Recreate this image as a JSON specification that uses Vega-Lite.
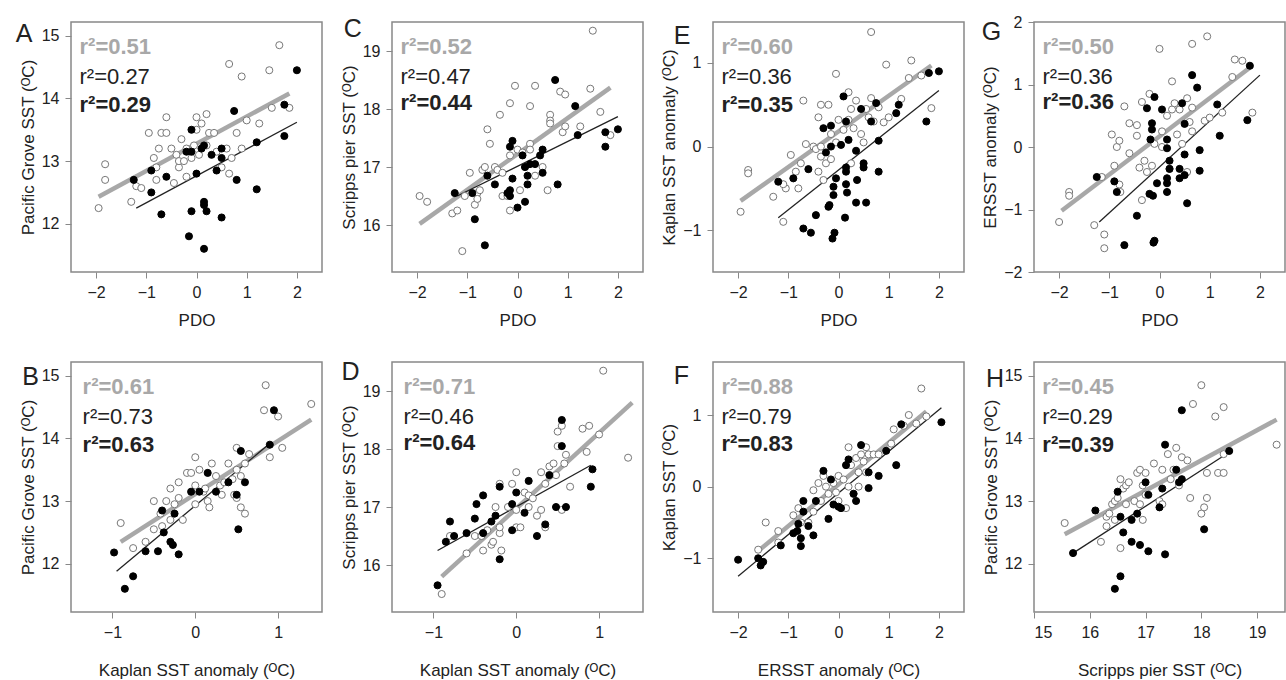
{
"$schema":"https://vega.github.io/schema/vega-lite/v6.json",
"padding":{"left":15,"top":13,"right":0,"bottom":0},
"background":"white",
"config":{"view":{"stroke":"#888","strokeWidth":1.5},"axis":{"grid":false,"domain":false,"tickColor":"#888","tickSize":6,"labelFontSize":16,"labelColor":"#222","labelFont":"Liberation Sans","titleFont":"Liberation Sans","titleFontSize":17,"titleFontWeight":"normal","titleColor":"#222","labelPadding":6},"axisY":{"titlePadding":4},"concat":{"spacing":70}},
"bounds":"flush",
"columns":4,
"spacing":{"row":90,"column":70},
"resolve":{"scale":{"x":"independent","y":"independent"}},
"datasets":{
"A":[{"x":-1.95,"y":12.25,"t":"o"},{"x":-1.82,"y":12.95,"t":"o"},{"x":-1.82,"y":12.7,"t":"o"},{"x":-1.3,"y":12.35,"t":"o"},{"x":-1.2,"y":12.6,"t":"o"},{"x":-1.1,"y":12.57,"t":"o"},{"x":-0.95,"y":13.45,"t":"o"},{"x":-0.85,"y":13.05,"t":"o"},{"x":-0.8,"y":12.7,"t":"o"},{"x":-0.8,"y":12.9,"t":"o"},{"x":-0.75,"y":13.2,"t":"o"},{"x":-0.7,"y":13.45,"t":"o"},{"x":-0.6,"y":13.45,"t":"o"},{"x":-0.6,"y":13.7,"t":"o"},{"x":-0.5,"y":13.2,"t":"o"},{"x":-0.45,"y":12.65,"t":"o"},{"x":-0.4,"y":13.1,"t":"o"},{"x":-0.35,"y":12.9,"t":"o"},{"x":-0.35,"y":13.0,"t":"o"},{"x":-0.3,"y":13.35,"t":"o"},{"x":-0.25,"y":13.0,"t":"o"},{"x":-0.2,"y":13.2,"t":"o"},{"x":-0.2,"y":12.75,"t":"o"},{"x":-0.1,"y":13.05,"t":"o"},{"x":-0.05,"y":13.25,"t":"o"},{"x":0,"y":13.7,"t":"o"},{"x":0,"y":13.5,"t":"o"},{"x":0.05,"y":13.1,"t":"o"},{"x":0.1,"y":13.6,"t":"o"},{"x":0.2,"y":13.75,"t":"o"},{"x":0.2,"y":13.25,"t":"o"},{"x":0.25,"y":13.45,"t":"o"},{"x":0.35,"y":13.45,"t":"o"},{"x":0.4,"y":13.15,"t":"o"},{"x":0.5,"y":12.9,"t":"o"},{"x":0.6,"y":13.2,"t":"o"},{"x":0.65,"y":14.55,"t":"o"},{"x":0.65,"y":12.8,"t":"o"},{"x":0.7,"y":13.05,"t":"o"},{"x":0.8,"y":13.45,"t":"o"},{"x":0.9,"y":14.35,"t":"o"},{"x":0.9,"y":13.2,"t":"o"},{"x":1.0,"y":13.65,"t":"o"},{"x":1.25,"y":13.6,"t":"o"},{"x":1.45,"y":14.45,"t":"o"},{"x":1.5,"y":13.85,"t":"o"},{"x":1.65,"y":14.85,"t":"o"},{"x":1.85,"y":13.85,"t":"o"},
{"x":-1.25,"y":12.7,"t":"f"},{"x":-0.9,"y":12.5,"t":"f"},{"x":-0.9,"y":12.85,"t":"f"},{"x":-0.7,"y":12.15,"t":"f"},{"x":-0.6,"y":12.75,"t":"f"},{"x":-0.2,"y":13.15,"t":"f"},{"x":-0.15,"y":11.8,"t":"f"},{"x":-0.1,"y":13.15,"t":"f"},{"x":-0.1,"y":13.5,"t":"f"},{"x":-0.1,"y":12.2,"t":"f"},{"x":0,"y":12.8,"t":"f"},{"x":0.1,"y":13.2,"t":"f"},{"x":0.15,"y":13.25,"t":"f"},{"x":0.15,"y":12.35,"t":"f"},{"x":0.15,"y":12.3,"t":"f"},{"x":0.15,"y":11.6,"t":"f"},{"x":0.2,"y":12.2,"t":"f"},{"x":0.3,"y":13.1,"t":"f"},{"x":0.4,"y":12.85,"t":"f"},{"x":0.5,"y":13.2,"t":"f"},{"x":0.5,"y":13.05,"t":"f"},{"x":0.5,"y":12.1,"t":"f"},{"x":0.75,"y":13.8,"t":"f"},{"x":0.8,"y":12.7,"t":"f"},{"x":1.2,"y":12.55,"t":"f"},{"x":1.2,"y":13.3,"t":"f"},{"x":1.75,"y":13.4,"t":"f"},{"x":1.75,"y":13.9,"t":"f"},{"x":2.0,"y":14.45,"t":"f"}],
"Al":[{"x":-1.95,"y":12.43,"g":"g"},{"x":1.85,"y":14.08,"g":"g"},{"x":-1.2,"y":12.25,"g":"b"},{"x":2.0,"y":13.62,"g":"b"}],
"At":[{"x":-2.33,"y":14.82,"s":"r²=0.51","c":"g","w":"b"},{"x":-2.33,"y":14.34,"s":"r²=0.27","c":"b","w":"n"},{"x":-2.33,"y":13.9,"s":"r²=0.29","c":"b","w":"b"},{"x":-3.6,"y":15.03,"s":"A","c":"b","w":"L"}],
"C":[{"x":-1.95,"y":16.5,"t":"o"},{"x":-1.8,"y":16.4,"t":"o"},{"x":-1.3,"y":16.2,"t":"o"},{"x":-1.2,"y":16.25,"t":"o"},{"x":-1.1,"y":15.55,"t":"o"},{"x":-1.05,"y":16.5,"t":"o"},{"x":-0.95,"y":16.9,"t":"o"},{"x":-0.85,"y":16.35,"t":"o"},{"x":-0.8,"y":16.55,"t":"o"},{"x":-0.8,"y":16.45,"t":"o"},{"x":-0.75,"y":16.6,"t":"o"},{"x":-0.7,"y":16.95,"t":"o"},{"x":-0.65,"y":17.0,"t":"o"},{"x":-0.6,"y":17.65,"t":"o"},{"x":-0.55,"y":17.4,"t":"o"},{"x":-0.45,"y":17.0,"t":"o"},{"x":-0.4,"y":16.95,"t":"o"},{"x":-0.35,"y":17.9,"t":"o"},{"x":-0.3,"y":16.5,"t":"o"},{"x":-0.3,"y":16.9,"t":"o"},{"x":-0.2,"y":16.5,"t":"o"},{"x":-0.15,"y":17.2,"t":"o"},{"x":-0.15,"y":18.1,"t":"o"},{"x":-0.15,"y":16.25,"t":"o"},{"x":-0.05,"y":18.4,"t":"o"},{"x":0,"y":17.3,"t":"o"},{"x":0.05,"y":16.6,"t":"o"},{"x":0.1,"y":17.25,"t":"o"},{"x":0.15,"y":17.0,"t":"o"},{"x":0.25,"y":17.4,"t":"o"},{"x":0.25,"y":17.3,"t":"o"},{"x":0.25,"y":18.05,"t":"o"},{"x":0.35,"y":18.4,"t":"o"},{"x":0.35,"y":16.85,"t":"o"},{"x":0.5,"y":17.0,"t":"o"},{"x":0.6,"y":16.6,"t":"o"},{"x":0.65,"y":17.9,"t":"o"},{"x":0.65,"y":17.8,"t":"o"},{"x":0.65,"y":17.75,"t":"o"},{"x":0.85,"y":18.3,"t":"o"},{"x":0.95,"y":18.25,"t":"o"},{"x":0.9,"y":17.6,"t":"o"},{"x":0.95,"y":17.7,"t":"o"},{"x":1.25,"y":17.7,"t":"o"},{"x":1.45,"y":18.35,"t":"o"},{"x":1.5,"y":19.35,"t":"o"},{"x":1.65,"y":17.95,"t":"o"},{"x":1.85,"y":17.55,"t":"o"},
{"x":-1.25,"y":16.55,"t":"f"},{"x":-0.9,"y":16.55,"t":"f"},{"x":-0.85,"y":16.1,"t":"f"},{"x":-0.65,"y":15.65,"t":"f"},{"x":-0.6,"y":16.85,"t":"f"},{"x":-0.45,"y":16.7,"t":"f"},{"x":-0.15,"y":16.5,"t":"f"},{"x":-0.2,"y":16.55,"t":"f"},{"x":-0.15,"y":16.6,"t":"f"},{"x":-0.1,"y":17.45,"t":"f"},{"x":-0.15,"y":17.35,"t":"f"},{"x":-0.1,"y":16.8,"t":"f"},{"x":0,"y":16.3,"t":"f"},{"x":0.1,"y":17.2,"t":"f"},{"x":0.15,"y":17.0,"t":"f"},{"x":0.15,"y":16.4,"t":"f"},{"x":0.2,"y":16.7,"t":"f"},{"x":0.2,"y":16.85,"t":"f"},{"x":0.25,"y":17.05,"t":"f"},{"x":0.35,"y":17.05,"t":"f"},{"x":0.45,"y":17.2,"t":"f"},{"x":0.5,"y":16.9,"t":"f"},{"x":0.5,"y":17.3,"t":"f"},{"x":0.75,"y":18.5,"t":"f"},{"x":0.8,"y":16.7,"t":"f"},{"x":1.15,"y":18.05,"t":"f"},{"x":1.2,"y":17.55,"t":"f"},{"x":1.75,"y":17.6,"t":"f"},{"x":1.75,"y":17.35,"t":"f"},{"x":2.0,"y":17.65,"t":"f"}],
"Cl":[{"x":-1.95,"y":16.02,"g":"g"},{"x":1.85,"y":18.37,"g":"g"},{"x":-1.2,"y":16.5,"g":"b"},{"x":2.0,"y":17.87,"g":"b"}],
"Ct":[{"x":-2.33,"y":19.07,"s":"r²=0.52","c":"g","w":"b"},{"x":-2.33,"y":18.55,"s":"r²=0.47","c":"b","w":"n"},{"x":-2.33,"y":18.1,"s":"r²=0.44","c":"b","w":"b"},{"x":-3.46,"y":19.38,"s":"C","c":"b","w":"L"}],
"E":[{"x":-1.95,"y":-0.78,"t":"o"},{"x":-1.8,"y":-0.28,"t":"o"},{"x":-1.8,"y":-0.32,"t":"o"},{"x":-1.3,"y":-0.6,"t":"o"},{"x":-1.1,"y":-0.9,"t":"o"},{"x":-1.05,"y":-0.5,"t":"o"},{"x":-1.1,"y":-0.45,"t":"o"},{"x":-0.95,"y":-0.1,"t":"o"},{"x":-0.85,"y":-0.3,"t":"o"},{"x":-0.8,"y":-0.5,"t":"o"},{"x":-0.75,"y":-0.2,"t":"o"},{"x":-0.7,"y":0.55,"t":"o"},{"x":-0.65,"y":0.03,"t":"o"},{"x":-0.5,"y":0.0,"t":"o"},{"x":-0.45,"y":-0.03,"t":"o"},{"x":-0.4,"y":-0.3,"t":"o"},{"x":-0.4,"y":0.35,"t":"o"},{"x":-0.35,"y":0.0,"t":"o"},{"x":-0.35,"y":-0.12,"t":"o"},{"x":-0.35,"y":0.5,"t":"o"},{"x":-0.3,"y":-0.4,"t":"o"},{"x":-0.25,"y":-0.2,"t":"o"},{"x":-0.2,"y":0.5,"t":"o"},{"x":-0.15,"y":0.15,"t":"o"},{"x":-0.15,"y":-0.15,"t":"o"},{"x":-0.05,"y":0.87,"t":"o"},{"x":-0.05,"y":0.05,"t":"o"},{"x":0,"y":0.32,"t":"o"},{"x":0.1,"y":0.2,"t":"o"},{"x":0.2,"y":0.32,"t":"o"},{"x":0.2,"y":0.65,"t":"o"},{"x":0.25,"y":0.45,"t":"o"},{"x":0.25,"y":-0.2,"t":"o"},{"x":0.3,"y":0.22,"t":"o"},{"x":0.35,"y":0.55,"t":"o"},{"x":0.45,"y":0.15,"t":"o"},{"x":0.5,"y":0.05,"t":"o"},{"x":0.55,"y":0.45,"t":"o"},{"x":0.6,"y":0.35,"t":"o"},{"x":0.65,"y":0.58,"t":"o"},{"x":0.65,"y":1.37,"t":"o"},{"x":0.7,"y":0.3,"t":"o"},{"x":0.8,"y":0.47,"t":"o"},{"x":0.9,"y":0.29,"t":"o"},{"x":0.95,"y":0.98,"t":"o"},{"x":1.0,"y":0.35,"t":"o"},{"x":1.25,"y":0.57,"t":"o"},{"x":1.4,"y":0.82,"t":"o"},{"x":1.45,"y":1.03,"t":"o"},{"x":1.65,"y":0.85,"t":"o"},{"x":1.85,"y":0.46,"t":"o"},
{"x":-1.2,"y":-0.42,"t":"f"},{"x":-0.9,"y":-0.38,"t":"f"},{"x":-0.7,"y":-0.98,"t":"f"},{"x":-0.6,"y":-0.27,"t":"f"},{"x":-0.55,"y":-1.03,"t":"f"},{"x":-0.45,"y":-0.82,"t":"f"},{"x":-0.3,"y":0.22,"t":"f"},{"x":-0.25,"y":-0.07,"t":"f"},{"x":-0.2,"y":-0.72,"t":"f"},{"x":-0.18,"y":-0.7,"t":"f"},{"x":-0.15,"y":0.25,"t":"f"},{"x":-0.15,"y":0.0,"t":"f"},{"x":-0.1,"y":-0.48,"t":"f"},{"x":-0.1,"y":-0.58,"t":"f"},{"x":-0.12,"y":-1.1,"t":"f"},{"x":-0.08,"y":-1.03,"t":"f"},{"x":-0.05,"y":-0.38,"t":"f"},{"x":0.05,"y":0.02,"t":"f"},{"x":0.1,"y":0.6,"t":"f"},{"x":0.15,"y":0.3,"t":"f"},{"x":0.15,"y":-0.25,"t":"f"},{"x":0.15,"y":-0.3,"t":"f"},{"x":0.15,"y":-0.45,"t":"f"},{"x":0.17,"y":-0.55,"t":"f"},{"x":0.13,"y":-0.85,"t":"f"},{"x":0.2,"y":0.08,"t":"f"},{"x":0.35,"y":-0.05,"t":"f"},{"x":0.37,"y":-0.4,"t":"f"},{"x":0.35,"y":-0.67,"t":"f"},{"x":0.45,"y":0.45,"t":"f"},{"x":0.5,"y":-0.2,"t":"f"},{"x":0.5,"y":-0.25,"t":"f"},{"x":0.55,"y":-0.67,"t":"f"},{"x":0.65,"y":0.3,"t":"f"},{"x":0.75,"y":0.52,"t":"f"},{"x":0.8,"y":0.07,"t":"f"},{"x":0.8,"y":-0.3,"t":"f"},{"x":1.15,"y":0.4,"t":"f"},{"x":1.2,"y":0.5,"t":"f"},{"x":1.75,"y":0.3,"t":"f"},{"x":1.8,"y":0.88,"t":"f"},{"x":2.0,"y":0.9,"t":"f"}],
"El":[{"x":-1.95,"y":-0.65,"g":"g"},{"x":1.85,"y":0.97,"g":"g"},{"x":-1.2,"y":-0.85,"g":"b"},{"x":2.0,"y":0.67,"g":"b"}],
"Et":[{"x":-2.33,"y":1.19,"s":"r²=0.60","c":"g","w":"b"},{"x":-2.33,"y":0.83,"s":"r²=0.36","c":"b","w":"n"},{"x":-2.33,"y":0.5,"s":"r²=0.35","c":"b","w":"b"},{"x":-3.28,"y":1.32,"s":"E","c":"b","w":"L"}],
"G":[{"x":-2.0,"y":-1.2,"t":"o"},{"x":-1.8,"y":-0.72,"t":"o"},{"x":-1.8,"y":-0.78,"t":"o"},{"x":-1.3,"y":-1.25,"t":"o"},{"x":-1.1,"y":-1.4,"t":"o"},{"x":-1.1,"y":-1.62,"t":"o"},{"x":-1.15,"y":-0.48,"t":"o"},{"x":-0.95,"y":0.2,"t":"o"},{"x":-0.9,"y":-0.3,"t":"o"},{"x":-0.85,"y":0.0,"t":"o"},{"x":-0.8,"y":0.1,"t":"o"},{"x":-0.8,"y":-0.6,"t":"o"},{"x":-0.78,"y":-0.72,"t":"o"},{"x":-0.7,"y":0.65,"t":"o"},{"x":-0.6,"y":-0.1,"t":"o"},{"x":-0.6,"y":0.38,"t":"o"},{"x":-0.45,"y":0.18,"t":"o"},{"x":-0.45,"y":0.35,"t":"o"},{"x":-0.4,"y":-0.33,"t":"o"},{"x":-0.35,"y":0.72,"t":"o"},{"x":-0.35,"y":-0.85,"t":"o"},{"x":-0.3,"y":-0.22,"t":"o"},{"x":-0.25,"y":-0.4,"t":"o"},{"x":-0.2,"y":0.85,"t":"o"},{"x":-0.15,"y":-0.3,"t":"o"},{"x":-0.1,"y":0.05,"t":"o"},{"x":0,"y":1.57,"t":"o"},{"x":0.05,"y":0.0,"t":"o"},{"x":0.05,"y":0.25,"t":"o"},{"x":0.15,"y":0.5,"t":"o"},{"x":0.2,"y":-0.35,"t":"o"},{"x":0.25,"y":1.05,"t":"o"},{"x":0.25,"y":0.6,"t":"o"},{"x":0.3,"y":0.7,"t":"o"},{"x":0.35,"y":0.2,"t":"o"},{"x":0.4,"y":0.6,"t":"o"},{"x":0.45,"y":0.05,"t":"o"},{"x":0.55,"y":-0.4,"t":"o"},{"x":0.55,"y":0.78,"t":"o"},{"x":0.6,"y":0.4,"t":"o"},{"x":0.65,"y":1.65,"t":"o"},{"x":0.65,"y":0.63,"t":"o"},{"x":0.65,"y":0.25,"t":"o"},{"x":0.9,"y":0.42,"t":"o"},{"x":0.95,"y":1.77,"t":"o"},{"x":1.0,"y":0.47,"t":"o"},{"x":1.25,"y":0.55,"t":"o"},{"x":1.45,"y":1.12,"t":"o"},{"x":1.5,"y":1.4,"t":"o"},{"x":1.65,"y":1.38,"t":"o"},{"x":1.85,"y":0.55,"t":"o"},
{"x":-1.25,"y":-0.48,"t":"f"},{"x":-0.9,"y":-0.55,"t":"f"},{"x":-0.85,"y":-0.72,"t":"f"},{"x":-0.7,"y":-1.57,"t":"f"},{"x":-0.45,"y":-1.1,"t":"f"},{"x":-0.25,"y":0.62,"t":"f"},{"x":-0.2,"y":-0.75,"t":"f"},{"x":-0.15,"y":0.38,"t":"f"},{"x":-0.15,"y":0.28,"t":"f"},{"x":-0.13,"y":-0.78,"t":"f"},{"x":-0.1,"y":0.8,"t":"f"},{"x":-0.1,"y":-1.5,"t":"f"},{"x":-0.12,"y":-1.53,"t":"f"},{"x":-0.18,"y":0.12,"t":"f"},{"x":-0.05,"y":-0.58,"t":"f"},{"x":0.05,"y":0.6,"t":"f"},{"x":0.15,"y":-0.02,"t":"f"},{"x":0.15,"y":-0.5,"t":"f"},{"x":0.15,"y":-0.58,"t":"f"},{"x":0.15,"y":-0.72,"t":"f"},{"x":0.15,"y":0.12,"t":"f"},{"x":0.2,"y":-0.22,"t":"f"},{"x":0.2,"y":-0.35,"t":"f"},{"x":0.4,"y":-0.35,"t":"f"},{"x":0.4,"y":-0.5,"t":"f"},{"x":0.45,"y":0.7,"t":"f"},{"x":0.5,"y":0.37,"t":"f"},{"x":0.5,"y":-0.12,"t":"f"},{"x":0.5,"y":-0.45,"t":"f"},{"x":0.55,"y":-0.9,"t":"f"},{"x":0.65,"y":1.15,"t":"f"},{"x":0.75,"y":0.95,"t":"f"},{"x":0.8,"y":-0.38,"t":"f"},{"x":0.8,"y":-0.05,"t":"f"},{"x":1.15,"y":0.68,"t":"f"},{"x":1.2,"y":0.18,"t":"f"},{"x":1.75,"y":0.43,"t":"f"},{"x":1.8,"y":1.3,"t":"f"}],
"Gl":[{"x":-1.95,"y":-1.02,"g":"g"},{"x":1.85,"y":1.3,"g":"g"},{"x":-1.2,"y":-1.2,"g":"b"},{"x":2.0,"y":1.15,"g":"b"}],
"Gt":[{"x":-2.33,"y":1.6,"s":"r²=0.50","c":"g","w":"b"},{"x":-2.33,"y":1.12,"s":"r²=0.36","c":"b","w":"n"},{"x":-2.33,"y":0.72,"s":"r²=0.36","c":"b","w":"b"},{"x":-3.54,"y":1.84,"s":"G","c":"b","w":"L"}],
"B":[{"x":-0.9,"y":12.65,"t":"o"},{"x":-0.75,"y":12.25,"t":"o"},{"x":-0.6,"y":12.35,"t":"o"},{"x":-0.5,"y":12.55,"t":"o"},{"x":-0.5,"y":13.0,"t":"o"},{"x":-0.4,"y":12.6,"t":"o"},{"x":-0.42,"y":12.8,"t":"o"},{"x":-0.35,"y":13.0,"t":"o"},{"x":-0.3,"y":13.2,"t":"o"},{"x":-0.3,"y":12.7,"t":"o"},{"x":-0.25,"y":12.95,"t":"o"},{"x":-0.2,"y":13.3,"t":"o"},{"x":-0.2,"y":13.05,"t":"o"},{"x":-0.15,"y":12.7,"t":"o"},{"x":-0.1,"y":13.45,"t":"o"},{"x":-0.05,"y":13.45,"t":"o"},{"x":0,"y":13.25,"t":"o"},{"x":0,"y":12.95,"t":"o"},{"x":0,"y":13.7,"t":"o"},{"x":0.05,"y":13.5,"t":"o"},{"x":0.1,"y":13.15,"t":"o"},{"x":0.12,"y":13.2,"t":"o"},{"x":0.15,"y":13.0,"t":"o"},{"x":0.17,"y":12.9,"t":"o"},{"x":0.2,"y":13.6,"t":"o"},{"x":0.25,"y":13.4,"t":"o"},{"x":0.3,"y":13.25,"t":"o"},{"x":0.32,"y":13.1,"t":"o"},{"x":0.35,"y":13.3,"t":"o"},{"x":0.4,"y":13.6,"t":"o"},{"x":0.45,"y":13.35,"t":"o"},{"x":0.47,"y":13.1,"t":"o"},{"x":0.5,"y":13.85,"t":"o"},{"x":0.5,"y":13.5,"t":"o"},{"x":0.5,"y":13.05,"t":"o"},{"x":0.55,"y":12.9,"t":"o"},{"x":0.55,"y":13.4,"t":"o"},{"x":0.6,"y":13.6,"t":"o"},{"x":0.6,"y":12.8,"t":"o"},{"x":0.65,"y":13.75,"t":"o"},{"x":0.85,"y":14.85,"t":"o"},{"x":0.83,"y":14.45,"t":"o"},{"x":0.9,"y":13.7,"t":"o"},{"x":1.0,"y":14.35,"t":"o"},{"x":1.05,"y":13.85,"t":"o"},{"x":1.4,"y":14.55,"t":"o"},
{"x":-0.98,"y":12.18,"t":"f"},{"x":-0.85,"y":11.6,"t":"f"},{"x":-0.75,"y":11.8,"t":"f"},{"x":-0.6,"y":12.2,"t":"f"},{"x":-0.45,"y":12.2,"t":"f"},{"x":-0.4,"y":12.85,"t":"f"},{"x":-0.38,"y":12.5,"t":"f"},{"x":-0.3,"y":12.35,"t":"f"},{"x":-0.27,"y":12.3,"t":"f"},{"x":-0.25,"y":12.8,"t":"f"},{"x":-0.2,"y":12.15,"t":"f"},{"x":-0.05,"y":13.15,"t":"f"},{"x":0.05,"y":13.15,"t":"f"},{"x":0.15,"y":13.45,"t":"f"},{"x":0.25,"y":13.15,"t":"f"},{"x":0.4,"y":13.3,"t":"f"},{"x":0.5,"y":13.1,"t":"f"},{"x":0.52,"y":12.55,"t":"f"},{"x":0.55,"y":13.8,"t":"f"},{"x":0.6,"y":13.3,"t":"f"},{"x":0.9,"y":13.9,"t":"f"},{"x":0.95,"y":14.45,"t":"f"}],
"Bl":[{"x":-0.9,"y":12.35,"g":"g"},{"x":1.4,"y":14.3,"g":"g"},{"x":-0.95,"y":11.88,"g":"b"},{"x":0.9,"y":13.92,"g":"b"}],
"Bt":[{"x":-1.36,"y":14.82,"s":"r²=0.61","c":"g","w":"b"},{"x":-1.36,"y":14.34,"s":"r²=0.73","c":"b","w":"n"},{"x":-1.36,"y":13.9,"s":"r²=0.63","c":"b","w":"b"},{"x":-2.09,"y":14.98,"s":"B","c":"b","w":"L"}],
"D":[{"x":-0.9,"y":15.5,"t":"o"},{"x":-0.8,"y":16.5,"t":"o"},{"x":-0.6,"y":16.2,"t":"o"},{"x":-0.5,"y":16.5,"t":"o"},{"x":-0.4,"y":16.25,"t":"o"},{"x":-0.42,"y":16.5,"t":"o"},{"x":-0.35,"y":16.6,"t":"o"},{"x":-0.3,"y":16.35,"t":"o"},{"x":-0.28,"y":16.4,"t":"o"},{"x":-0.25,"y":17.0,"t":"o"},{"x":-0.2,"y":16.55,"t":"o"},{"x":-0.18,"y":16.25,"t":"o"},{"x":-0.2,"y":16.65,"t":"o"},{"x":-0.2,"y":17.4,"t":"o"},{"x":-0.1,"y":17.0,"t":"o"},{"x":-0.05,"y":17.4,"t":"o"},{"x":0,"y":16.65,"t":"o"},{"x":0,"y":16.95,"t":"o"},{"x":0,"y":17.6,"t":"o"},{"x":0.05,"y":16.65,"t":"o"},{"x":0.1,"y":17.25,"t":"o"},{"x":0.15,"y":17.0,"t":"o"},{"x":0.15,"y":17.2,"t":"o"},{"x":0.2,"y":17.15,"t":"o"},{"x":0.25,"y":16.85,"t":"o"},{"x":0.3,"y":16.95,"t":"o"},{"x":0.3,"y":17.6,"t":"o"},{"x":0.35,"y":16.65,"t":"o"},{"x":0.35,"y":17.4,"t":"o"},{"x":0.4,"y":17.7,"t":"o"},{"x":0.45,"y":17.75,"t":"o"},{"x":0.5,"y":18.3,"t":"o"},{"x":0.48,"y":17.55,"t":"o"},{"x":0.5,"y":18.05,"t":"o"},{"x":0.55,"y":16.95,"t":"o"},{"x":0.55,"y":18.4,"t":"o"},{"x":0.6,"y":17.9,"t":"o"},{"x":0.58,"y":17.75,"t":"o"},{"x":0.65,"y":17.35,"t":"o"},{"x":0.8,"y":18.35,"t":"o"},{"x":0.85,"y":17.95,"t":"o"},{"x":0.88,"y":18.4,"t":"o"},{"x":1.0,"y":18.25,"t":"o"},{"x":1.05,"y":19.35,"t":"o"},{"x":1.35,"y":17.85,"t":"o"},
{"x":-0.95,"y":15.65,"t":"f"},{"x":-0.85,"y":16.4,"t":"f"},{"x":-0.8,"y":16.75,"t":"f"},{"x":-0.75,"y":16.5,"t":"f"},{"x":-0.6,"y":16.55,"t":"f"},{"x":-0.5,"y":16.8,"t":"f"},{"x":-0.48,"y":17.05,"t":"f"},{"x":-0.4,"y":17.2,"t":"f"},{"x":-0.4,"y":16.55,"t":"f"},{"x":-0.3,"y":16.75,"t":"f"},{"x":-0.25,"y":16.85,"t":"f"},{"x":-0.2,"y":16.1,"t":"f"},{"x":-0.2,"y":17.35,"t":"f"},{"x":-0.05,"y":17.05,"t":"f"},{"x":-0.05,"y":16.6,"t":"f"},{"x":0,"y":17.25,"t":"f"},{"x":0.1,"y":16.9,"t":"f"},{"x":0.15,"y":17.45,"t":"f"},{"x":0.25,"y":16.5,"t":"f"},{"x":0.35,"y":16.7,"t":"f"},{"x":0.4,"y":17.55,"t":"f"},{"x":0.48,"y":17.0,"t":"f"},{"x":0.55,"y":18.5,"t":"f"},{"x":0.55,"y":18.05,"t":"f"},{"x":0.6,"y":17.0,"t":"f"},{"x":0.9,"y":17.35,"t":"f"},{"x":0.92,"y":17.65,"t":"f"}],
"Dl":[{"x":-0.9,"y":15.8,"g":"g"},{"x":1.4,"y":18.8,"g":"g"},{"x":-0.95,"y":16.25,"g":"b"},{"x":0.9,"y":17.72,"g":"b"}],
"Dt":[{"x":-1.36,"y":19.07,"s":"r²=0.71","c":"g","w":"b"},{"x":-1.36,"y":18.55,"s":"r²=0.46","c":"b","w":"n"},{"x":-1.36,"y":18.1,"s":"r²=0.64","c":"b","w":"b"},{"x":-2.11,"y":19.33,"s":"D","c":"b","w":"L"}],
"F":[{"x":-1.6,"y":-0.88,"t":"o"},{"x":-1.45,"y":-0.5,"t":"o"},{"x":-1.2,"y":-0.62,"t":"o"},{"x":-1.2,"y":-0.78,"t":"o"},{"x":-0.9,"y":-0.4,"t":"o"},{"x":-0.8,"y":-0.3,"t":"o"},{"x":-0.75,"y":-0.5,"t":"o"},{"x":-0.6,"y":-0.5,"t":"o"},{"x":-0.5,"y":-0.35,"t":"o"},{"x":-0.5,"y":-0.05,"t":"o"},{"x":-0.4,"y":0.05,"t":"o"},{"x":-0.35,"y":-0.2,"t":"o"},{"x":-0.3,"y":0.15,"t":"o"},{"x":-0.25,"y":0.0,"t":"o"},{"x":-0.2,"y":-0.1,"t":"o"},{"x":-0.1,"y":0.05,"t":"o"},{"x":-0.05,"y":-0.08,"t":"o"},{"x":0,"y":0.15,"t":"o"},{"x":0,"y":-0.2,"t":"o"},{"x":0.1,"y":0.1,"t":"o"},{"x":0.15,"y":-0.3,"t":"o"},{"x":0.2,"y":0.55,"t":"o"},{"x":0.2,"y":0.0,"t":"o"},{"x":0.25,"y":0.3,"t":"o"},{"x":0.3,"y":-0.1,"t":"o"},{"x":0.35,"y":0.4,"t":"o"},{"x":0.4,"y":0.2,"t":"o"},{"x":0.4,"y":0.0,"t":"o"},{"x":0.45,"y":0.45,"t":"o"},{"x":0.5,"y":0.35,"t":"o"},{"x":0.55,"y":0.55,"t":"o"},{"x":0.55,"y":0.2,"t":"o"},{"x":0.6,"y":0.45,"t":"o"},{"x":0.7,"y":0.45,"t":"o"},{"x":0.8,"y":0.45,"t":"o"},{"x":1.05,"y":0.6,"t":"o"},{"x":1.1,"y":0.8,"t":"o"},{"x":1.3,"y":0.85,"t":"o"},{"x":1.4,"y":1.0,"t":"o"},{"x":1.55,"y":0.88,"t":"o"},{"x":1.65,"y":1.37,"t":"o"},{"x":1.75,"y":0.98,"t":"o"},
{"x":-2.0,"y":-1.02,"t":"f"},{"x":-1.6,"y":-1.0,"t":"f"},{"x":-1.55,"y":-1.1,"t":"f"},{"x":-1.5,"y":-1.05,"t":"f"},{"x":-1.15,"y":-0.82,"t":"f"},{"x":-0.9,"y":-0.65,"t":"f"},{"x":-0.8,"y":-0.52,"t":"f"},{"x":-0.82,"y":-0.62,"t":"f"},{"x":-0.75,"y":-0.72,"t":"f"},{"x":-0.75,"y":-0.83,"t":"f"},{"x":-0.7,"y":-0.2,"t":"f"},{"x":-0.7,"y":-0.35,"t":"f"},{"x":-0.6,"y":-0.55,"t":"f"},{"x":-0.5,"y":-0.68,"t":"f"},{"x":-0.45,"y":-0.2,"t":"f"},{"x":-0.3,"y":0.22,"t":"f"},{"x":-0.2,"y":-0.45,"t":"f"},{"x":-0.15,"y":0.1,"t":"f"},{"x":-0.1,"y":-0.25,"t":"f"},{"x":0,"y":-0.28,"t":"f"},{"x":0.05,"y":-0.3,"t":"f"},{"x":0.15,"y":0.3,"t":"f"},{"x":0.2,"y":0.38,"t":"f"},{"x":0.3,"y":-0.1,"t":"f"},{"x":0.35,"y":-0.2,"t":"f"},{"x":0.45,"y":0.58,"t":"f"},{"x":0.6,"y":0.2,"t":"f"},{"x":0.6,"y":-0.02,"t":"f"},{"x":0.8,"y":0.15,"t":"f"},{"x":0.95,"y":0.5,"t":"f"},{"x":1.15,"y":0.3,"t":"f"},{"x":1.25,"y":0.87,"t":"f"},{"x":2.05,"y":0.9,"t":"f"}],
"Fl":[{"x":-1.6,"y":-0.9,"g":"g"},{"x":1.75,"y":1.05,"g":"g"},{"x":-2.0,"y":-1.25,"g":"b"},{"x":2.05,"y":1.1,"g":"b"}],
"Ft":[{"x":-2.33,"y":1.39,"s":"r²=0.88","c":"g","w":"b"},{"x":-2.33,"y":0.97,"s":"r²=0.79","c":"b","w":"n"},{"x":-2.33,"y":0.59,"s":"r²=0.83","c":"b","w":"b"},{"x":-3.28,"y":1.54,"s":"F","c":"b","w":"L"}],
"H":[{"x":15.55,"y":12.65,"t":"o"},{"x":16.2,"y":12.35,"t":"o"},{"x":16.3,"y":12.6,"t":"o"},{"x":16.3,"y":12.75,"t":"o"},{"x":16.35,"y":12.8,"t":"o"},{"x":16.4,"y":12.95,"t":"o"},{"x":16.45,"y":12.7,"t":"o"},{"x":16.45,"y":13.0,"t":"o"},{"x":16.5,"y":13.05,"t":"o"},{"x":16.55,"y":12.25,"t":"o"},{"x":16.55,"y":13.35,"t":"o"},{"x":16.6,"y":13.2,"t":"o"},{"x":16.65,"y":12.95,"t":"o"},{"x":16.65,"y":13.25,"t":"o"},{"x":16.7,"y":13.3,"t":"o"},{"x":16.8,"y":13.0,"t":"o"},{"x":16.85,"y":13.45,"t":"o"},{"x":16.9,"y":13.5,"t":"o"},{"x":16.9,"y":12.95,"t":"o"},{"x":16.95,"y":13.25,"t":"o"},{"x":16.95,"y":12.7,"t":"o"},{"x":17.0,"y":13.45,"t":"o"},{"x":17.0,"y":13.1,"t":"o"},{"x":17.15,"y":13.6,"t":"o"},{"x":17.25,"y":13.0,"t":"o"},{"x":17.3,"y":13.5,"t":"o"},{"x":17.3,"y":12.95,"t":"o"},{"x":17.4,"y":13.75,"t":"o"},{"x":17.45,"y":13.35,"t":"o"},{"x":17.5,"y":13.5,"t":"o"},{"x":17.55,"y":13.85,"t":"o"},{"x":17.6,"y":13.25,"t":"o"},{"x":17.65,"y":13.7,"t":"o"},{"x":17.75,"y":13.65,"t":"o"},{"x":17.8,"y":13.05,"t":"o"},{"x":17.85,"y":14.55,"t":"o"},{"x":18.0,"y":14.85,"t":"o"},{"x":18.0,"y":12.8,"t":"o"},{"x":18.05,"y":12.9,"t":"o"},{"x":18.1,"y":13.45,"t":"o"},{"x":18.1,"y":13.05,"t":"o"},{"x":18.25,"y":14.35,"t":"o"},{"x":18.3,"y":13.45,"t":"o"},{"x":18.4,"y":13.45,"t":"o"},{"x":18.4,"y":14.5,"t":"o"},{"x":18.4,"y":13.75,"t":"o"},{"x":19.35,"y":13.9,"t":"o"},
{"x":15.7,"y":12.17,"t":"f"},{"x":16.1,"y":12.85,"t":"f"},{"x":16.45,"y":11.6,"t":"f"},{"x":16.5,"y":13.15,"t":"f"},{"x":16.55,"y":11.8,"t":"f"},{"x":16.55,"y":12.75,"t":"f"},{"x":16.6,"y":12.5,"t":"f"},{"x":16.75,"y":12.7,"t":"f"},{"x":16.75,"y":12.35,"t":"f"},{"x":16.85,"y":12.8,"t":"f"},{"x":16.9,"y":12.3,"t":"f"},{"x":17.0,"y":13.3,"t":"f"},{"x":17.05,"y":13.1,"t":"f"},{"x":17.05,"y":12.2,"t":"f"},{"x":17.25,"y":12.9,"t":"f"},{"x":17.3,"y":13.2,"t":"f"},{"x":17.35,"y":12.15,"t":"f"},{"x":17.35,"y":13.9,"t":"f"},{"x":17.55,"y":13.5,"t":"f"},{"x":17.6,"y":13.3,"t":"f"},{"x":17.65,"y":13.35,"t":"f"},{"x":17.65,"y":14.45,"t":"f"},{"x":18.05,"y":12.55,"t":"f"},{"x":18.5,"y":13.8,"t":"f"}],
"Hl":[{"x":15.55,"y":12.47,"g":"g"},{"x":19.35,"y":14.3,"g":"g"},{"x":15.7,"y":12.17,"g":"b"},{"x":18.5,"y":13.78,"g":"b"}],
"Ht":[{"x":15.15,"y":14.82,"s":"r²=0.45","c":"g","w":"b"},{"x":15.15,"y":14.34,"s":"r²=0.29","c":"b","w":"n"},{"x":15.15,"y":13.9,"s":"r²=0.39","c":"b","w":"b"},{"x":14.14,"y":14.95,"s":"H","c":"b","w":"L"}]
},
"concat":[
{"width":251,"height":250,"data":{"name":"A"},
"encoding":{"x":{"field":"x","type":"quantitative","scale":{"domain":[-2.5,2.5],"nice":false,"zero":false},"axis":{"values":[-2,-1,0,1,2],"title":"PDO","titlePadding":12}},"y":{"field":"y","type":"quantitative","scale":{"domain":[11.23,15.22],"nice":false,"zero":false},"axis":{"values":[12,13,14,15],"title":"Pacific Grove SST (ᴼC)"}}},
"layer":[
{"data":{"name":"Al"},"mark":{"type":"line"},"encoding":{"detail":{"field":"g"},"color":{"field":"g","type":"nominal","scale":{"domain":["g","b"],"range":["#a8a8a8","#222222"]},"legend":null},"strokeWidth":{"field":"g","type":"nominal","scale":{"domain":["g","b"],"range":[4.5,1.3]},"legend":null}}},
{"mark":{"type":"point","shape":"circle","size":50,"strokeWidth":1,"opacity":1},"encoding":{"fill":{"field":"t","type":"nominal","scale":{"domain":["o","f"],"range":["white","black"]},"legend":null},"stroke":{"field":"t","type":"nominal","scale":{"domain":["o","f"],"range":["#777777","black"]},"legend":null}}},
{"data":{"name":"At"},"transform":[{"filter":"datum.w=='b'"}],"mark":{"type":"text","align":"left","baseline":"middle","fontSize":22,"fontWeight":"bold","font":"Liberation Sans"},"encoding":{"text":{"field":"s"},"color":{"field":"c","type":"nominal","scale":{"domain":["g","b"],"range":["#a8a8a8","#222222"]},"legend":null}}},
{"data":{"name":"At"},"transform":[{"filter":"datum.w=='n'"}],"mark":{"type":"text","align":"left","baseline":"middle","fontSize":22,"font":"Liberation Sans","color":"#222"},"encoding":{"text":{"field":"s"}}},
{"data":{"name":"At"},"transform":[{"filter":"datum.w=='L'"}],"mark":{"type":"text","align":"left","baseline":"middle","fontSize":25,"font":"Liberation Sans","color":"#222"},"encoding":{"text":{"field":"s"}}}
]},
{"width":251,"height":250,"data":{"name":"C"},
"encoding":{"x":{"field":"x","type":"quantitative","scale":{"domain":[-2.5,2.5],"nice":false,"zero":false},"axis":{"values":[-2,-1,0,1,2],"title":"PDO","titlePadding":12}},"y":{"field":"y","type":"quantitative","scale":{"domain":[15.19,19.5],"nice":false,"zero":false},"axis":{"values":[16,17,18,19],"title":"Scripps pier SST (ᴼC)"}}},
"layer":[
{"data":{"name":"Cl"},"mark":{"type":"line"},"encoding":{"detail":{"field":"g"},"color":{"field":"g","type":"nominal","scale":{"domain":["g","b"],"range":["#a8a8a8","#222222"]},"legend":null},"strokeWidth":{"field":"g","type":"nominal","scale":{"domain":["g","b"],"range":[4.5,1.3]},"legend":null}}},
{"mark":{"type":"point","shape":"circle","size":50,"strokeWidth":1,"opacity":1},"encoding":{"fill":{"field":"t","type":"nominal","scale":{"domain":["o","f"],"range":["white","black"]},"legend":null},"stroke":{"field":"t","type":"nominal","scale":{"domain":["o","f"],"range":["#777777","black"]},"legend":null}}},
{"data":{"name":"Ct"},"transform":[{"filter":"datum.w=='b'"}],"mark":{"type":"text","align":"left","baseline":"middle","fontSize":22,"fontWeight":"bold","font":"Liberation Sans"},"encoding":{"text":{"field":"s"},"color":{"field":"c","type":"nominal","scale":{"domain":["g","b"],"range":["#a8a8a8","#222222"]},"legend":null}}},
{"data":{"name":"Ct"},"transform":[{"filter":"datum.w=='n'"}],"mark":{"type":"text","align":"left","baseline":"middle","fontSize":22,"font":"Liberation Sans","color":"#222"},"encoding":{"text":{"field":"s"}}},
{"data":{"name":"Ct"},"transform":[{"filter":"datum.w=='L'"}],"mark":{"type":"text","align":"left","baseline":"middle","fontSize":25,"font":"Liberation Sans","color":"#222"},"encoding":{"text":{"field":"s"}}}
]},
{"width":251,"height":250,"data":{"name":"E"},
"encoding":{"x":{"field":"x","type":"quantitative","scale":{"domain":[-2.5,2.5],"nice":false,"zero":false},"axis":{"values":[-2,-1,0,1,2],"title":"PDO","titlePadding":12}},"y":{"field":"y","type":"quantitative","scale":{"domain":[-1.5,1.49],"nice":false,"zero":false},"axis":{"values":[-1,0,1],"title":"Kaplan SST anomaly (ᴼC)"}}},
"layer":[
{"data":{"name":"El"},"mark":{"type":"line"},"encoding":{"detail":{"field":"g"},"color":{"field":"g","type":"nominal","scale":{"domain":["g","b"],"range":["#a8a8a8","#222222"]},"legend":null},"strokeWidth":{"field":"g","type":"nominal","scale":{"domain":["g","b"],"range":[4.5,1.3]},"legend":null}}},
{"mark":{"type":"point","shape":"circle","size":50,"strokeWidth":1,"opacity":1},"encoding":{"fill":{"field":"t","type":"nominal","scale":{"domain":["o","f"],"range":["white","black"]},"legend":null},"stroke":{"field":"t","type":"nominal","scale":{"domain":["o","f"],"range":["#777777","black"]},"legend":null}}},
{"data":{"name":"Et"},"transform":[{"filter":"datum.w=='b'"}],"mark":{"type":"text","align":"left","baseline":"middle","fontSize":22,"fontWeight":"bold","font":"Liberation Sans"},"encoding":{"text":{"field":"s"},"color":{"field":"c","type":"nominal","scale":{"domain":["g","b"],"range":["#a8a8a8","#222222"]},"legend":null}}},
{"data":{"name":"Et"},"transform":[{"filter":"datum.w=='n'"}],"mark":{"type":"text","align":"left","baseline":"middle","fontSize":22,"font":"Liberation Sans","color":"#222"},"encoding":{"text":{"field":"s"}}},
{"data":{"name":"Et"},"transform":[{"filter":"datum.w=='L'"}],"mark":{"type":"text","align":"left","baseline":"middle","fontSize":25,"font":"Liberation Sans","color":"#222"},"encoding":{"text":{"field":"s"}}}
]},
{"width":251,"height":250,"data":{"name":"G"},
"encoding":{"x":{"field":"x","type":"quantitative","scale":{"domain":[-2.5,2.5],"nice":false,"zero":false},"axis":{"values":[-2,-1,0,1,2],"title":"PDO","titlePadding":12}},"y":{"field":"y","type":"quantitative","scale":{"domain":[-2,2],"nice":false,"zero":false},"axis":{"values":[-2,-1,0,1,2],"title":"ERSST anomaly (ᴼC)"}}},
"layer":[
{"data":{"name":"Gl"},"mark":{"type":"line"},"encoding":{"detail":{"field":"g"},"color":{"field":"g","type":"nominal","scale":{"domain":["g","b"],"range":["#a8a8a8","#222222"]},"legend":null},"strokeWidth":{"field":"g","type":"nominal","scale":{"domain":["g","b"],"range":[4.5,1.3]},"legend":null}}},
{"mark":{"type":"point","shape":"circle","size":50,"strokeWidth":1,"opacity":1},"encoding":{"fill":{"field":"t","type":"nominal","scale":{"domain":["o","f"],"range":["white","black"]},"legend":null},"stroke":{"field":"t","type":"nominal","scale":{"domain":["o","f"],"range":["#777777","black"]},"legend":null}}},
{"data":{"name":"Gt"},"transform":[{"filter":"datum.w=='b'"}],"mark":{"type":"text","align":"left","baseline":"middle","fontSize":22,"fontWeight":"bold","font":"Liberation Sans"},"encoding":{"text":{"field":"s"},"color":{"field":"c","type":"nominal","scale":{"domain":["g","b"],"range":["#a8a8a8","#222222"]},"legend":null}}},
{"data":{"name":"Gt"},"transform":[{"filter":"datum.w=='n'"}],"mark":{"type":"text","align":"left","baseline":"middle","fontSize":22,"font":"Liberation Sans","color":"#222"},"encoding":{"text":{"field":"s"}}},
{"data":{"name":"Gt"},"transform":[{"filter":"datum.w=='L'"}],"mark":{"type":"text","align":"left","baseline":"middle","fontSize":25,"font":"Liberation Sans","color":"#222"},"encoding":{"text":{"field":"s"}}}
]},
{"width":251,"height":250,"data":{"name":"B"},
"encoding":{"x":{"field":"x","type":"quantitative","scale":{"domain":[-1.5,1.53],"nice":false,"zero":false},"axis":{"values":[-1,0,1],"title":"Kaplan SST anomaly (ᴼC)","titlePadding":22}},"y":{"field":"y","type":"quantitative","scale":{"domain":[11.23,15.22],"nice":false,"zero":false},"axis":{"values":[12,13,14,15],"title":"Pacific Grove SST (ᴼC)"}}},
"layer":[
{"data":{"name":"Bl"},"mark":{"type":"line"},"encoding":{"detail":{"field":"g"},"color":{"field":"g","type":"nominal","scale":{"domain":["g","b"],"range":["#a8a8a8","#222222"]},"legend":null},"strokeWidth":{"field":"g","type":"nominal","scale":{"domain":["g","b"],"range":[4.5,1.3]},"legend":null}}},
{"mark":{"type":"point","shape":"circle","size":50,"strokeWidth":1,"opacity":1},"encoding":{"fill":{"field":"t","type":"nominal","scale":{"domain":["o","f"],"range":["white","black"]},"legend":null},"stroke":{"field":"t","type":"nominal","scale":{"domain":["o","f"],"range":["#777777","black"]},"legend":null}}},
{"data":{"name":"Bt"},"transform":[{"filter":"datum.w=='b'"}],"mark":{"type":"text","align":"left","baseline":"middle","fontSize":22,"fontWeight":"bold","font":"Liberation Sans"},"encoding":{"text":{"field":"s"},"color":{"field":"c","type":"nominal","scale":{"domain":["g","b"],"range":["#a8a8a8","#222222"]},"legend":null}}},
{"data":{"name":"Bt"},"transform":[{"filter":"datum.w=='n'"}],"mark":{"type":"text","align":"left","baseline":"middle","fontSize":22,"font":"Liberation Sans","color":"#222"},"encoding":{"text":{"field":"s"}}},
{"data":{"name":"Bt"},"transform":[{"filter":"datum.w=='L'"}],"mark":{"type":"text","align":"left","baseline":"middle","fontSize":25,"font":"Liberation Sans","color":"#222"},"encoding":{"text":{"field":"s"}}}
]},
{"width":251,"height":250,"data":{"name":"D"},
"encoding":{"x":{"field":"x","type":"quantitative","scale":{"domain":[-1.5,1.53],"nice":false,"zero":false},"axis":{"values":[-1,0,1],"title":"Kaplan SST anomaly (ᴼC)","titlePadding":22}},"y":{"field":"y","type":"quantitative","scale":{"domain":[15.19,19.5],"nice":false,"zero":false},"axis":{"values":[16,17,18,19],"title":"Scripps pier SST (ᴼC)"}}},
"layer":[
{"data":{"name":"Dl"},"mark":{"type":"line"},"encoding":{"detail":{"field":"g"},"color":{"field":"g","type":"nominal","scale":{"domain":["g","b"],"range":["#a8a8a8","#222222"]},"legend":null},"strokeWidth":{"field":"g","type":"nominal","scale":{"domain":["g","b"],"range":[4.5,1.3]},"legend":null}}},
{"mark":{"type":"point","shape":"circle","size":50,"strokeWidth":1,"opacity":1},"encoding":{"fill":{"field":"t","type":"nominal","scale":{"domain":["o","f"],"range":["white","black"]},"legend":null},"stroke":{"field":"t","type":"nominal","scale":{"domain":["o","f"],"range":["#777777","black"]},"legend":null}}},
{"data":{"name":"Dt"},"transform":[{"filter":"datum.w=='b'"}],"mark":{"type":"text","align":"left","baseline":"middle","fontSize":22,"fontWeight":"bold","font":"Liberation Sans"},"encoding":{"text":{"field":"s"},"color":{"field":"c","type":"nominal","scale":{"domain":["g","b"],"range":["#a8a8a8","#222222"]},"legend":null}}},
{"data":{"name":"Dt"},"transform":[{"filter":"datum.w=='n'"}],"mark":{"type":"text","align":"left","baseline":"middle","fontSize":22,"font":"Liberation Sans","color":"#222"},"encoding":{"text":{"field":"s"}}},
{"data":{"name":"Dt"},"transform":[{"filter":"datum.w=='L'"}],"mark":{"type":"text","align":"left","baseline":"middle","fontSize":25,"font":"Liberation Sans","color":"#222"},"encoding":{"text":{"field":"s"}}}
]},
{"width":251,"height":250,"data":{"name":"F"},
"encoding":{"x":{"field":"x","type":"quantitative","scale":{"domain":[-2.5,2.5],"nice":false,"zero":false},"axis":{"values":[-2,-1,0,1,2],"title":"ERSST anomaly (ᴼC)","titlePadding":22}},"y":{"field":"y","type":"quantitative","scale":{"domain":[-1.75,1.74],"nice":false,"zero":false},"axis":{"values":[-1,0,1],"title":"Kaplan SST (ᴼC)"}}},
"layer":[
{"data":{"name":"Fl"},"mark":{"type":"line"},"encoding":{"detail":{"field":"g"},"color":{"field":"g","type":"nominal","scale":{"domain":["g","b"],"range":["#a8a8a8","#222222"]},"legend":null},"strokeWidth":{"field":"g","type":"nominal","scale":{"domain":["g","b"],"range":[4.5,1.3]},"legend":null}}},
{"mark":{"type":"point","shape":"circle","size":50,"strokeWidth":1,"opacity":1},"encoding":{"fill":{"field":"t","type":"nominal","scale":{"domain":["o","f"],"range":["white","black"]},"legend":null},"stroke":{"field":"t","type":"nominal","scale":{"domain":["o","f"],"range":["#777777","black"]},"legend":null}}},
{"data":{"name":"Ft"},"transform":[{"filter":"datum.w=='b'"}],"mark":{"type":"text","align":"left","baseline":"middle","fontSize":22,"fontWeight":"bold","font":"Liberation Sans"},"encoding":{"text":{"field":"s"},"color":{"field":"c","type":"nominal","scale":{"domain":["g","b"],"range":["#a8a8a8","#222222"]},"legend":null}}},
{"data":{"name":"Ft"},"transform":[{"filter":"datum.w=='n'"}],"mark":{"type":"text","align":"left","baseline":"middle","fontSize":22,"font":"Liberation Sans","color":"#222"},"encoding":{"text":{"field":"s"}}},
{"data":{"name":"Ft"},"transform":[{"filter":"datum.w=='L'"}],"mark":{"type":"text","align":"left","baseline":"middle","fontSize":25,"font":"Liberation Sans","color":"#222"},"encoding":{"text":{"field":"s"}}}
]},
{"width":251,"height":250,"data":{"name":"H"},
"encoding":{"x":{"field":"x","type":"quantitative","scale":{"domain":[15,19.5],"nice":false,"zero":false},"axis":{"values":[15,16,17,18,19],"title":"Scripps pier SST (ᴼC)","titlePadding":22}},"y":{"field":"y","type":"quantitative","scale":{"domain":[11.23,15.22],"nice":false,"zero":false},"axis":{"values":[12,13,14,15],"title":"Pacific Grove SST (ᴼC)"}}},
"layer":[
{"data":{"name":"Hl"},"mark":{"type":"line"},"encoding":{"detail":{"field":"g"},"color":{"field":"g","type":"nominal","scale":{"domain":["g","b"],"range":["#a8a8a8","#222222"]},"legend":null},"strokeWidth":{"field":"g","type":"nominal","scale":{"domain":["g","b"],"range":[4.5,1.3]},"legend":null}}},
{"mark":{"type":"point","shape":"circle","size":50,"strokeWidth":1,"opacity":1},"encoding":{"fill":{"field":"t","type":"nominal","scale":{"domain":["o","f"],"range":["white","black"]},"legend":null},"stroke":{"field":"t","type":"nominal","scale":{"domain":["o","f"],"range":["#777777","black"]},"legend":null}}},
{"data":{"name":"Ht"},"transform":[{"filter":"datum.w=='b'"}],"mark":{"type":"text","align":"left","baseline":"middle","fontSize":22,"fontWeight":"bold","font":"Liberation Sans"},"encoding":{"text":{"field":"s"},"color":{"field":"c","type":"nominal","scale":{"domain":["g","b"],"range":["#a8a8a8","#222222"]},"legend":null}}},
{"data":{"name":"Ht"},"transform":[{"filter":"datum.w=='n'"}],"mark":{"type":"text","align":"left","baseline":"middle","fontSize":22,"font":"Liberation Sans","color":"#222"},"encoding":{"text":{"field":"s"}}},
{"data":{"name":"Ht"},"transform":[{"filter":"datum.w=='L'"}],"mark":{"type":"text","align":"left","baseline":"middle","fontSize":25,"font":"Liberation Sans","color":"#222"},"encoding":{"text":{"field":"s"}}}
]}
]
}
